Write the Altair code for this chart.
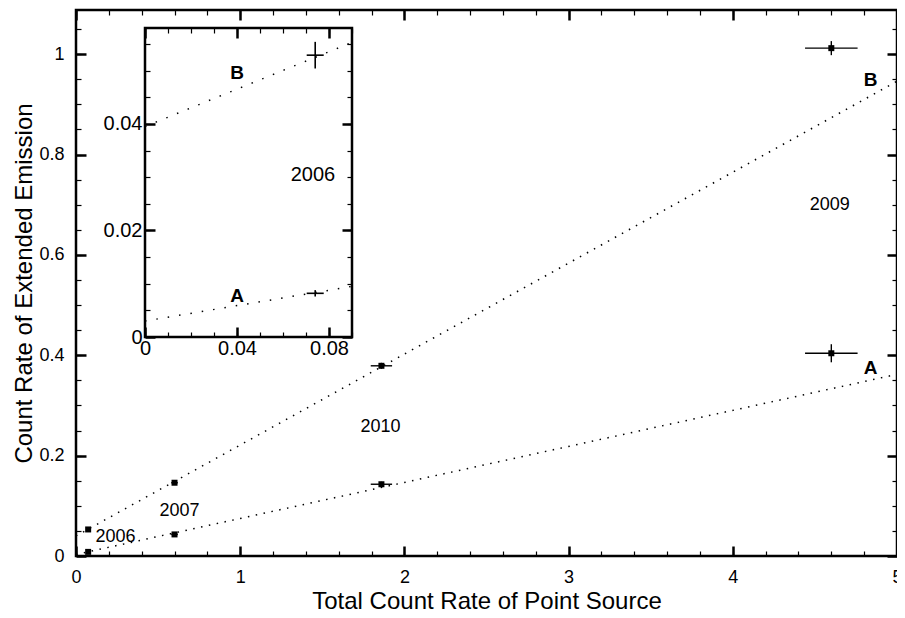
import altair as alt
import pandas as pd

# ---------------- data ----------------
years = ["2006", "2007", "2010", "2009"]
point_rate = [0.074, 0.60, 1.86, 4.60]          # total count rate of point source
point_err = [0.0037, 0.02, 0.065, 0.16]
ext_a = [0.0082, 0.043, 0.143, 0.404]           # component A
ext_a_err = [0.0006, 0.003, 0.005, 0.018]
ext_b = [0.0529, 0.146, 0.379, 1.012]           # component B
ext_b_err = [0.0025, 0.004, 0.006, 0.014]

fit_x = [0.0, 5.0]
fit_a = [0.003, 0.362]
fit_b = [0.040, 0.946]
inset_fit_x = [0.0, 0.09]
inset_fit_a = [0.003, 0.0095]
inset_fit_b = [0.0395, 0.0553]

year_label_x = [0.24, 0.63, 1.855, 4.59]
year_label_y = [0.038, 0.09, 0.257, 0.70]
comp_names = ["A", "B"]
comp_label_x = [4.84, 4.84]
comp_label_y = [0.375, 0.949]
inset_comp_x = [0.04, 0.04]
inset_comp_y = [0.0077, 0.0496]
inset_year = ["2006"]
inset_year_x = [0.073]
inset_year_y = [0.0304]

main_x_domain = [0, 5]
main_y_domain = [0, 1.088]
inset_x_domain = [0, 0.09]
inset_y_domain = [0, 0.058]
main_x_labels = [0, 1, 2, 3, 4, 5]
main_y_labels = [0, 0.2, 0.4, 0.6, 0.8, 1.0]
inset_x_labels = [0, 0.04, 0.08]
inset_y_labels = [0, 0.02, 0.04]
main_x_ticks = [round(0.2 * i, 2) for i in range(26)]
main_y_ticks = [round(0.05 * i, 2) for i in range(22)]
inset_x_ticks = [round(0.01 * i, 2) for i in range(10)]
inset_y_ticks = [round(0.005 * i, 3) for i in range(12)]

x_title = "Total Count Rate of Point Source"
y_title = "Count Rate of Extended Emission"

# ---------------- layout ----------------
W, H = 821, 546
INSET_L, INSET_R, INSET_T, INSET_B = 69, 276, 18, 327
FONT = "Liberation Sans"
MAJ, MIN = 10, 5

# ---------------- tables ----------------
rows = []
for i, yr in enumerate(years):
    rows.append(dict(year=yr, comp="A", x=point_rate[i], xe=point_err[i], y=ext_a[i], ye=ext_a_err[i]))
    rows.append(dict(year=yr, comp="B", x=point_rate[i], xe=point_err[i], y=ext_b[i], ye=ext_b_err[i]))
pts = pd.DataFrame(rows)

fits = pd.DataFrame(
    [dict(comp="A", x=x, y=y) for x, y in zip(fit_x, fit_a)]
    + [dict(comp="B", x=x, y=y) for x, y in zip(fit_x, fit_b)]
)
ifits = pd.DataFrame(
    [dict(comp="A", x=x, y=y) for x, y in zip(inset_fit_x, inset_fit_a)]
    + [dict(comp="B", x=x, y=y) for x, y in zip(inset_fit_x, inset_fit_b)]
)
ylab = pd.DataFrame(dict(t=years, x=year_label_x, y=year_label_y))
clab = pd.DataFrame(dict(t=comp_names, x=comp_label_x, y=comp_label_y))
iclab = pd.DataFrame(dict(t=comp_names, x=inset_comp_x, y=inset_comp_y))
iylab = pd.DataFrame(dict(t=inset_year, x=inset_year_x, y=inset_year_y))
iframe = pd.DataFrame(dict(x0=[inset_x_domain[0]], x1=[inset_x_domain[1]],
                           y0=[inset_y_domain[0]], y1=[inset_y_domain[1]]))

xs = alt.Scale(domain=main_x_domain, nice=False, zero=False)
ys = alt.Scale(domain=main_y_domain, nice=False, zero=False)
ixs = alt.Scale(domain=inset_x_domain, range=[INSET_L, INSET_R], nice=False, zero=False)
iys = alt.Scale(domain=inset_y_domain, range=[INSET_B, INSET_T], nice=False, zero=False)


def tick_axis(orient, offset, values, size, width, z=0):
    return alt.Axis(orient=orient, offset=offset, values=values, labels=False,
                    domain=False, grid=False, title="", ticks=True,
                    tickSize=size, tickWidth=width, tickColor="black", zindex=z)


def label_axis(orient, offset, values, pad, size, title="", tsize=24, tpad=4):
    return alt.Axis(orient=orient, offset=offset, values=values, labels=True,
                    ticks=False, domain=False, grid=False, format="~g",
                    labelFlush=False, labelOverlap=False, labelPadding=pad,
                    labelFontSize=size, labelFont=FONT, labelColor="black",
                    title=title, titleFont=FONT, titleFontSize=tsize,
                    titleFontWeight="normal", titleColor="black", titlePadding=tpad)


def carriers(data, xf, yf, xsc, ysc, xaxes, yaxes):
    out = []
    for xa, ya in zip(xaxes, yaxes):
        out.append(alt.Chart(data).mark_point(opacity=0).encode(
            x=alt.X(f"{xf}:Q", scale=xsc, axis=xa),
            y=alt.Y(f"{yf}:Q", scale=ysc, axis=ya)))
    return out


# ---------------- main panel ----------------
m_lines = alt.Chart(fits).mark_line(color="black", strokeWidth=1.5, strokeDash=[1.5, 6.5]).encode(
    x=alt.X("x:Q", scale=xs, axis=None), y=alt.Y("y:Q", scale=ys, axis=None), detail="comp:N")
m_xerr = alt.Chart(pts).transform_calculate(
    xlo="datum.x - datum.xe", xhi="datum.x + datum.xe").mark_rule(color="black", strokeWidth=1.4).encode(
    x=alt.X("xlo:Q", scale=xs, axis=None), x2="xhi:Q", y=alt.Y("y:Q", scale=ys, axis=None))
m_yerr = alt.Chart(pts).transform_calculate(
    ylo="datum.y - datum.ye", yhi="datum.y + datum.ye").mark_rule(color="black", strokeWidth=1.4).encode(
    x=alt.X("x:Q", scale=xs, axis=None), y=alt.Y("ylo:Q", scale=ys, axis=None), y2="yhi:Q")
m_sq = alt.Chart(pts).mark_square(size=36, color="black", opacity=1).encode(
    x=alt.X("x:Q", scale=xs, axis=None), y=alt.Y("y:Q", scale=ys, axis=None))
m_ytxt = alt.Chart(ylab).mark_text(font=FONT, fontSize=18, color="black").encode(
    x=alt.X("x:Q", scale=xs, axis=None), y=alt.Y("y:Q", scale=ys, axis=None), text="t:N")
m_ctxt = alt.Chart(clab).mark_text(font=FONT, fontSize=19, fontWeight="bold", color="black").encode(
    x=alt.X("x:Q", scale=xs, axis=None), y=alt.Y("y:Q", scale=ys, axis=None), text="t:N")

m_car = carriers(
    pts, "x", "y", xs, ys,
    [label_axis("bottom", 0, main_x_labels, 12, 18, x_title, 24, 3),
     tick_axis("top", -H, main_x_labels, MAJ, 2.5),
     tick_axis("top", -H, main_x_ticks, MIN, 1.2),
     tick_axis("bottom", -H, main_x_labels, MAJ, 2.5),
     tick_axis("bottom", -H, main_x_ticks, MIN, 1.2)],
    [label_axis("left", 0, main_y_labels, 12, 18, y_title, 24, 2),
     tick_axis("right", -W, main_y_labels, MAJ, 2.5),
     tick_axis("right", -W, main_y_ticks, MIN, 1.2),
     tick_axis("left", -W, main_y_labels, MAJ, 2.5),
     tick_axis("left", -W, main_y_ticks, MIN, 1.2)],
)

main = alt.layer(m_lines, m_xerr, m_yerr, m_sq, m_ytxt, m_ctxt, *m_car).resolve_axis(
    x="independent", y="independent")

# ---------------- inset panel ----------------
ipts = alt.Chart(pts).transform_filter(alt.datum.year == inset_year[0])
i_frame = alt.Chart(iframe).mark_rect(fill="white", stroke="black", strokeWidth=2.5).encode(
    x=alt.X("x0:Q", scale=ixs, axis=None), x2="x1:Q",
    y=alt.Y("y0:Q", scale=iys, axis=None), y2="y1:Q")
i_lines = alt.Chart(ifits).mark_line(color="black", strokeWidth=1.5, strokeDash=[1.5, 10]).encode(
    x=alt.X("x:Q", scale=ixs, axis=None), y=alt.Y("y:Q", scale=iys, axis=None), detail="comp:N")
i_xerr = ipts.transform_calculate(
    xlo="datum.x - datum.xe", xhi="datum.x + datum.xe").mark_rule(color="black", strokeWidth=1.6).encode(
    x=alt.X("xlo:Q", scale=ixs, axis=None), x2="xhi:Q", y=alt.Y("y:Q", scale=iys, axis=None))
i_yerr = ipts.transform_calculate(
    ylo="datum.y - datum.ye", yhi="datum.y + datum.ye").mark_rule(color="black", strokeWidth=1.6).encode(
    x=alt.X("x:Q", scale=ixs, axis=None), y=alt.Y("ylo:Q", scale=iys, axis=None), y2="yhi:Q")
i_ytxt = alt.Chart(iylab).mark_text(font=FONT, fontSize=20, color="black").encode(
    x=alt.X("x:Q", scale=ixs, axis=None), y=alt.Y("y:Q", scale=iys, axis=None), text="t:N")
i_ctxt = alt.Chart(iclab).mark_text(font=FONT, fontSize=19, fontWeight="bold", color="black").encode(
    x=alt.X("x:Q", scale=ixs, axis=None), y=alt.Y("y:Q", scale=iys, axis=None), text="t:N")

i_car = carriers(
    iframe, "x0", "y0", ixs, iys,
    [label_axis("bottom", INSET_B - H, inset_x_labels, 1, 20),
     tick_axis("top", -INSET_B, inset_x_labels, MAJ, 2.5, 1),
     tick_axis("top", -INSET_B, inset_x_ticks, MIN, 1.2, 1),
     tick_axis("bottom", INSET_T - H, inset_x_labels, MAJ, 2.5, 1),
     tick_axis("bottom", INSET_T - H, inset_x_ticks, MIN, 1.2, 1)],
    [label_axis("left", -INSET_L, inset_y_labels, 3, 20),
     tick_axis("right", INSET_L - W, inset_y_labels, MAJ, 2.5, 1),
     tick_axis("right", INSET_L - W, inset_y_ticks, MIN, 1.2, 1),
     tick_axis("left", -INSET_R, inset_y_labels, MAJ, 2.5, 1),
     tick_axis("left", -INSET_R, inset_y_ticks, MIN, 1.2, 1)],
)

inset = alt.layer(i_frame, i_lines, i_xerr, i_yerr, i_ytxt, i_ctxt, *i_car).resolve_axis(
    x="independent", y="independent")

chart = alt.layer(main, inset).resolve_scale(x="independent", y="independent").properties(
    width=W, height=H,
    autosize=alt.AutoSizeParams(type="none"),
    padding={"left": 68, "top": 2, "right": 0, "bottom": 58},
).configure(font=FONT).configure_view(stroke="black", strokeWidth=2.5)

chart.save("out.html", embed_options={"renderer": "svg", "actions": False})
